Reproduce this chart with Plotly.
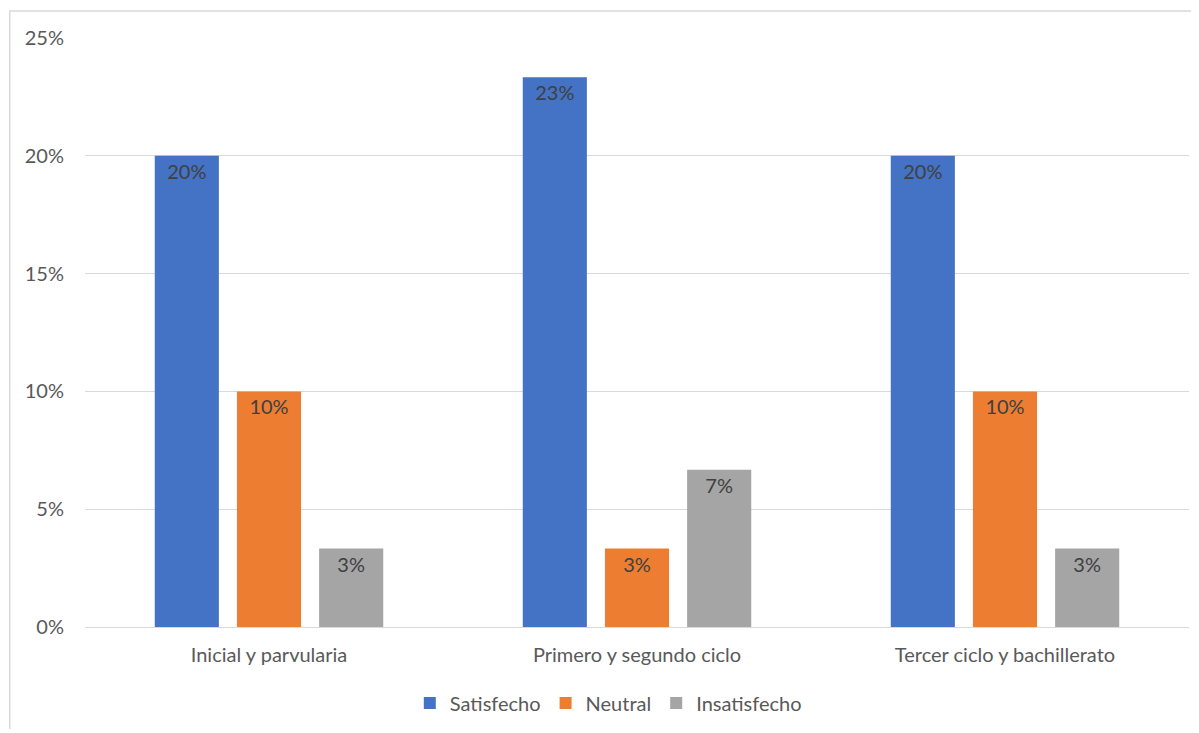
import plotly.graph_objects as go

categories = ["Inicial y parvularia", "Primero y segundo ciclo", "Tercer ciclo y bachillerato"]
series_names = ["Satisfecho", "Neutral", "Insatisfecho"]
satisfecho = [0.2, 0.2333, 0.2]
neutral = [0.1, 0.0333, 0.1]
insatisfecho = [0.0333, 0.0667, 0.0333]
colors = ["#4472C4", "#ED7D31", "#A5A5A5"]
y_ticks = [0, 0.05, 0.10, 0.15, 0.20, 0.25]
y_tick_labels = ["0%", "5%", "10%", "15%", "20%", "25%"]

FONT = "Lato, 'Liberation Sans', sans-serif"
FS = 20

fig = go.Figure()
for name, vals, col in zip(series_names, [satisfecho, neutral, insatisfecho], colors):
    fig.add_trace(go.Bar(
        x=categories, y=vals, name=name, marker=dict(color=col, line=dict(width=0)),
        texttemplate="%{y:.0%}", textposition="inside", insidetextanchor="end",
        textangle=0,
        textfont=dict(color="#404040", size=FS, family=FONT),
        hoverinfo="skip",
    ))

fig.update_layout(
    barmode="group", bargap=0.33, bargroupgap=0.22,
    width=1187, height=721,
    margin=dict(l=77, r=6, t=30, b=96),
    paper_bgcolor="white", plot_bgcolor="white",
    font=dict(family=FONT, size=FS, color="#595959"),
    showlegend=True,
    legend=dict(orientation="h", x=0.474, xanchor="center", y=-0.129, yanchor="middle",
                font=dict(size=FS, color="#595959"), traceorder="normal",
                itemwidth=30),
    uniformtext=dict(mode=False),
)
fig.update_yaxes(range=[0, 0.25], tickvals=y_ticks, ticktext=y_tick_labels,
                 showgrid=True, gridcolor="#D9D9D9", gridwidth=1,
                 zeroline=True, zerolinecolor="#D9D9D9", zerolinewidth=1,
                 showline=False, ticks="", ticklabelstandoff=20,
                 tickfont=dict(size=FS, color="#595959"))
fig.update_xaxes(showgrid=False, showline=True, linecolor="#D9D9D9", linewidth=1,
                 ticks="", tickfont=dict(size=FS, color="#595959"), ticklabelstandoff=10)

# chart border (Excel chart area outline)
fig.add_shape(type="rect", xref="paper", yref="paper",
              x0=(10 - 85) / 1100, x1=(1215 - 85) / 1100,
              y0=-(750 - 627) / 589, y1=1 + (38 - 11) / 589,
              line=dict(color="#D9D9D9", width=1.5), fillcolor="rgba(0,0,0,0)", layer="below")

fig.write_html("out.html")
